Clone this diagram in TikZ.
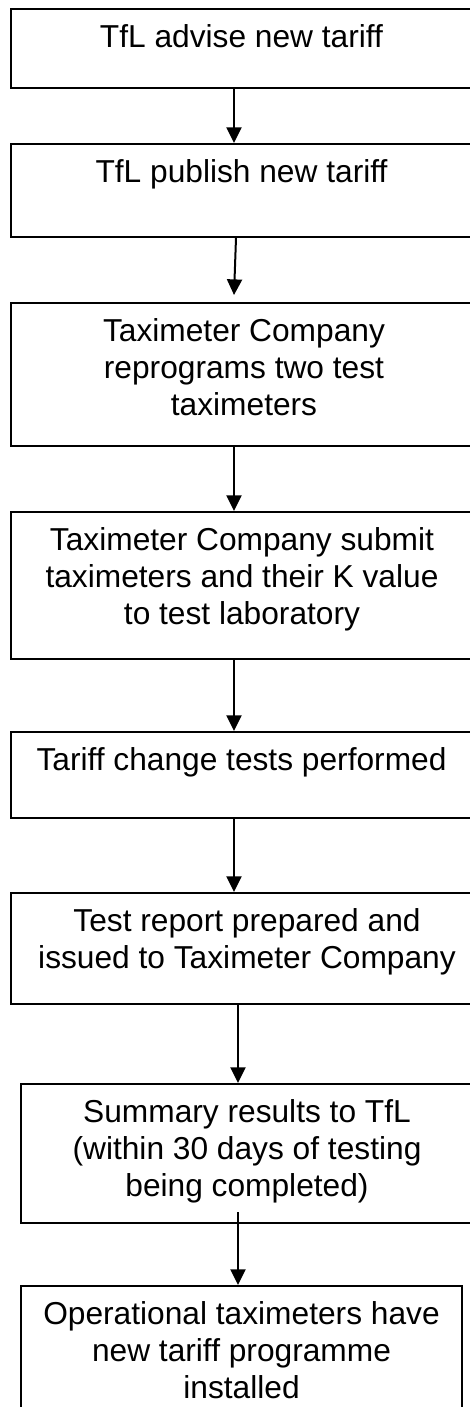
\documentclass[tikz,border=0pt]{standalone}
\usepackage{fontspec}
\setmainfont{Liberation Sans}
\usetikzlibrary{arrows.meta,fit}

\begin{document}
\begin{tikzpicture}[x=0.5pt,y=-0.5pt,
        box/.style={draw,line width=1pt,inner sep=0pt,fit={#1}},
        txt/.style={anchor=north,inner sep=0pt,align=center,font=\fontsize{15.85}{18.35}\selectfont},
        flow/.style={line width=1pt,-{Triangle[length=7.8pt,width=7.5pt]}}]
        \useasboundingbox (0,0) rectangle (470,1407);
        \coordinate (axis) at (234,0);
        \coordinate (axisb) at (238,0);
        % boxes
        \node[box={(11,9) (472,88)}] (advise) {};
        \node[box={(11,144) (472,237)}] (publish) {};
        \node[box={(11,303) (477,446)}] (reprog) {};
        \node[box={(11,512) (473,659)}] (submit) {};
        \node[box={(11,732) (472,818)}] (tests) {};
        \node[box={(11,893) (483,1004)}] (report) {};
        \node[box={(21,1084) (473,1223)}] (summary) {};
        \node[box={(21,1286) (462,1430)}] (install) {};
        % texts
        \node[txt] (advise-t) at ([yshift=-8.2pt]advise.north) {TfL advise new tariff};
        \node[txt] (publish-t) at ([yshift=-8.2pt]publish.north) {TfL publish new tariff};
        \node[txt] (reprog-t) at ([yshift=-8.2pt]reprog.north) {Taximeter Company\\reprograms two test\\taximeters};
        \node[txt] (submit-t) at ([yshift=-8.2pt]submit.north) {Taximeter Company submit\\taximeters and their K value\\to test laboratory};
        \node[txt] (tests-t) at ([yshift=-8.2pt]tests.north) {Tariff change tests performed};
        \node[txt] (report-t) at ([yshift=-8.2pt]report.north) {Test report prepared and\\issued to Taximeter Company};
        \node[txt] (summary-t) at ([yshift=-8.2pt]summary.north) {Summary results to TfL\\(within 30 days of testing\\being completed)};
        \node[txt] (install-t) at ([yshift=-8.2pt]install.north) {Operational taximeters have\\new tariff programme\\installed};
        % arrows
        \draw[flow] (advise.south -| axis) -- (publish.north -| axis);
        \draw[flow] ([xshift=1pt]publish.south -| axis) -- ([yshift=3.5pt]reprog.north -| axis);
        \draw[flow] (reprog.south -| axis) -- (submit.north -| axis);
        \draw[flow] (submit.south -| axis) -- (tests.north -| axis);
        \draw[flow] (tests.south -| axis) -- (report.north -| axis);
        \draw[flow] (report.south -| axisb) -- (summary.north -| axisb);
        \draw[flow] ([yshift=6pt]summary.south -| axisb) -- (install.north -| axisb);
\end{tikzpicture}
\end{document}
